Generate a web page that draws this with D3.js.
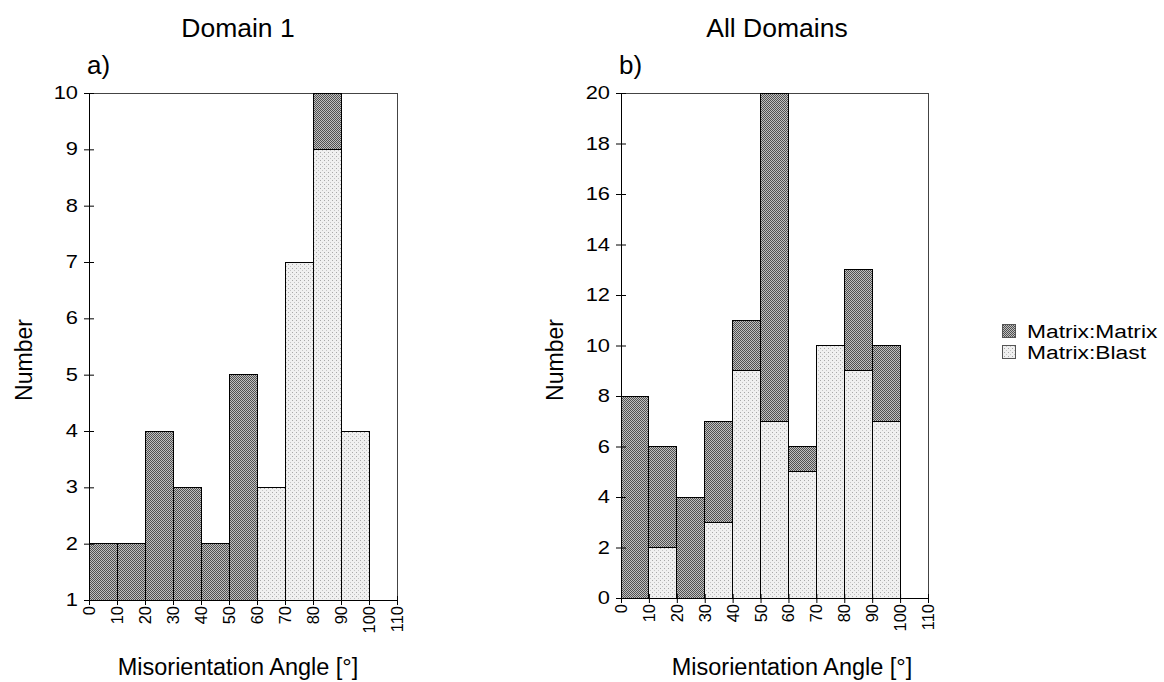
<!DOCTYPE html>
<html>
<head>
<meta charset="utf-8">
<script src="https://cdn.jsdelivr.net/npm/d3@7"></script>
<style>
  body { margin: 0; background: #fff; }
  text { font-family: "Liberation Sans", Arial, sans-serif; fill: #000; }
</style>
</head>
<body>
<svg id="chart" width="1164" height="682"></svg>
<script>
(function() {

  // bin starts (degrees), 10 degree wide bins
  var bins = [0, 10, 20, 30, 40, 50, 60, 70, 80, 90];
  var xTicks = [0, 10, 20, 30, 40, 50, 60, 70, 80, 90, 100, 110];

  // Domain 1
  var d1Blast  = [0, 0, 0, 0, 0, 0, 3, 7, 9, 4];
  var d1Matrix = [2, 2, 4, 3, 2, 5, 0, 0, 1, 0];
  var d1Ticks  = [1, 2, 3, 4, 5, 6, 7, 8, 9, 10];

  // All domains
  var allBlast  = [0, 2, 0, 3, 9, 7, 5, 10, 9, 7];
  var allMatrix = [8, 4, 4, 4, 2, 13, 1, 0, 4, 3];
  var allTicks  = [0, 2, 4, 6, 8, 10, 12, 14, 16, 18, 20];

  var legendNames = ['Matrix:Matrix', 'Matrix:Blast'];

  var svg = d3.select('#chart');

  // fill textures like the scanned figure
  var defs = svg.append('defs');
  var dark = defs.append('pattern')
    .attr('id', 'darkPat')
    .attr('width', 2).attr('height', 2)
    .attr('patternUnits', 'userSpaceOnUse');
  dark.append('rect').attr('width', 2).attr('height', 2).attr('fill', '#c0c0c0');
  dark.append('rect').attr('width', 1).attr('height', 1).attr('fill', '#505050');
  dark.append('rect').attr('x', 1).attr('y', 1).attr('width', 1).attr('height', 1).attr('fill', '#505050');

  var light = defs.append('pattern')
    .attr('id', 'lightPat')
    .attr('width', 4).attr('height', 4)
    .attr('patternUnits', 'userSpaceOnUse');
  light.append('rect').attr('width', 4).attr('height', 4).attr('fill', '#f0f0f0');
  light.append('rect').attr('x', 0).attr('y', 0).attr('width', 1).attr('height', 1).attr('fill', '#a8a8a8');
  light.append('rect').attr('x', 2).attr('y', 2).attr('width', 1).attr('height', 1).attr('fill', '#c4c4c4');

  var fills = { matrix: 'url(#darkPat)', blast: 'url(#lightPat)' };

  // text helper, the scan is a bit wider than the font
  var stretched = function(g, x, y, str, size, sx, anchor) {
    return g.append('text')
      .attr('transform', 'translate(' + x + ',' + y + ') scale(' + sx + ',1)')
      .attr('font-size', size)
      .attr('text-anchor', anchor || 'start')
      .text(str);
  };

  var drawPanel = function(opt) {
    var g = svg.append('g');

    var x = d3.scaleLinear().domain([0, 110]).range([opt.left, opt.right]);
    var y = d3.scaleLinear().domain([opt.ticks[0], opt.ticks[opt.ticks.length - 1]])
      .range([opt.bottom, opt.top]);

    var rows = bins.map(function(b, i) {
      return { bin: b, blast: opt.blast[i], matrix: opt.matrix[i] };
    });
    var series = d3.stack().keys(['blast', 'matrix'])(rows);

    // plot frame
    g.append('rect')
      .attr('x', opt.left).attr('y', opt.top)
      .attr('width', opt.right - opt.left).attr('height', opt.bottom - opt.top)
      .attr('fill', '#fff')
      .attr('stroke', '#444')
      .attr('shape-rendering', 'crispEdges');

    var ymin = y.domain()[0];
    series.forEach(function(s) {
      g.append('g').selectAll('rect')
        .data(s.filter(function(d) { return d[1] > d[0]; }))
        .enter().append('rect')
        .attr('x', function(d) { return x(d.data.bin); })
        .attr('width', function(d) { return x(d.data.bin + 10) - x(d.data.bin); })
        .attr('y', function(d) { return y(d[1]); })
        .attr('height', function(d) { return y(Math.max(d[0], ymin)) - y(d[1]); })
        .attr('fill', fills[s.key])
        .attr('stroke', '#000')
        .attr('stroke-width', 1)
        .attr('shape-rendering', 'crispEdges');
    });

    // axes, ticks cross the line
    var yAxis = g.append('g')
      .attr('transform', 'translate(' + opt.left + ',0)')
      .call(d3.axisLeft(y).tickValues(opt.ticks).tickSize(4).tickFormat(''));
    yAxis.selectAll('.tick line').attr('x1', -5).attr('x2', 5);
    yAxis.select('.domain').attr('stroke', '#000');

    var xAxis = g.append('g')
      .attr('transform', 'translate(0,' + opt.bottom + ')')
      .call(d3.axisBottom(x).tickValues(xTicks).tickSize(4).tickFormat(''));
    xAxis.selectAll('.tick line').attr('y1', -4).attr('y2', 5);
    xAxis.select('.domain').attr('stroke', '#000');

    // y tick labels
    opt.ticks.forEach(function(t) {
      stretched(g, opt.left - 11, y(t) + 6, String(t), 17.5, 1.25, 'end');
    });

    // x tick labels, rotated
    xTicks.forEach(function(t) {
      g.append('text')
        .attr('transform', 'translate(' + (x(t) + 6) + ',' + (opt.bottom + 6) + ') rotate(-90)')
        .attr('font-size', 16.5)
        .attr('text-anchor', 'end')
        .text(t);
    });

    g.append('text')
      .attr('x', opt.titleX).attr('y', 37)
      .attr('font-size', 26.5)
      .attr('text-anchor', 'middle')
      .text(opt.title);

    g.append('text')
      .attr('x', opt.left - 2).attr('y', 74)
      .attr('font-size', 26)
      .text(opt.tag);

    g.append('text')
      .attr('transform', 'translate(' + opt.numX + ',360) rotate(-90)')
      .attr('font-size', 23)
      .attr('text-anchor', 'middle')
      .text('Number');

    g.append('text')
      .attr('x', opt.axisX).attr('y', 675)
      .attr('font-size', 23.5)
      .attr('text-anchor', 'middle')
      .text('Misorientation Angle [°]');
  };

  drawPanel({
    left: 89, right: 397, top: 93, bottom: 600,
    blast: d1Blast, matrix: d1Matrix, ticks: d1Ticks,
    title: 'Domain 1', titleX: 238, tag: 'a)', numX: 32, axisX: 238
  });

  drawPanel({
    left: 621, right: 928, top: 93, bottom: 598,
    blast: allBlast, matrix: allMatrix, ticks: allTicks,
    title: 'All Domains', titleX: 777, tag: 'b)', numX: 563, axisX: 792
  });

  // legend
  var legend = svg.append('g');
  var legendFills = [fills.matrix, fills.blast];
  legendNames.forEach(function(name, i) {
    legend.append('rect')
      .attr('x', 1002).attr('y', 324 + i * 21)
      .attr('width', 13).attr('height', 13)
      .attr('fill', legendFills[i])
      .attr('stroke', '#555')
      .attr('shape-rendering', 'crispEdges');
    stretched(legend, 1027, 338 + i * 21, name, 19, 1.2);
  });

})();
</script>
</body>
</html>
